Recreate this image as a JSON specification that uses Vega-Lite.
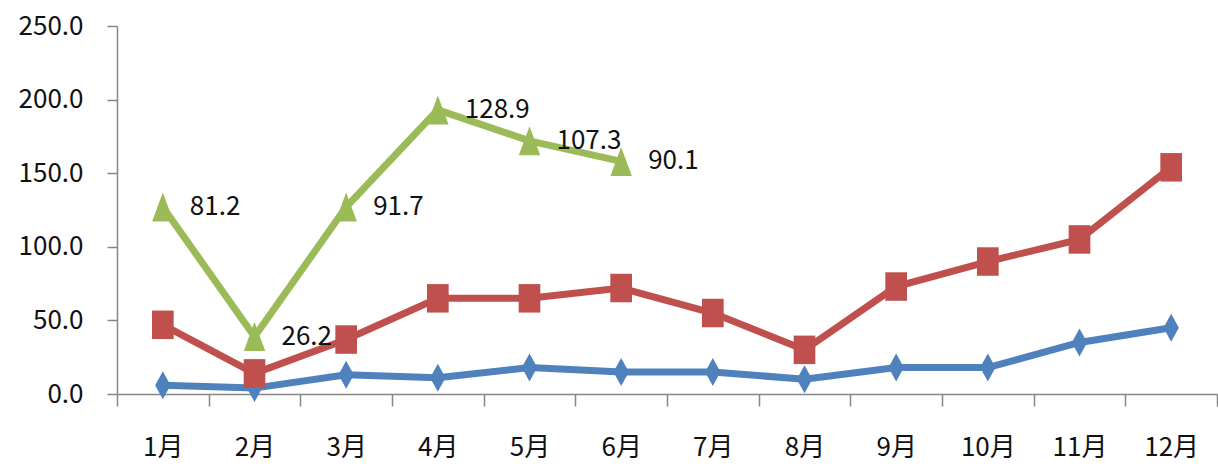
{
  "$schema": "https://vega.github.io/schema/vega-lite/v6.json",
  "width": 1100,
  "height": 368,
  "autosize": "none",
  "padding": {"left": 117, "top": 26, "right": 1, "bottom": 77},
  "background": "white",
  "config": {
    "view": {"stroke": null},
    "font": "Noto Sans CJK SC"
  },
  "data": {
    "values": [
      {"month": "1月", "series": "A", "value": 6},
      {"month": "2月", "series": "A", "value": 4},
      {"month": "3月", "series": "A", "value": 13},
      {"month": "4月", "series": "A", "value": 11},
      {"month": "5月", "series": "A", "value": 18},
      {"month": "6月", "series": "A", "value": 15},
      {"month": "7月", "series": "A", "value": 15},
      {"month": "8月", "series": "A", "value": 10},
      {"month": "9月", "series": "A", "value": 18},
      {"month": "10月", "series": "A", "value": 18},
      {"month": "11月", "series": "A", "value": 35},
      {"month": "12月", "series": "A", "value": 45},
      {"month": "1月", "series": "B", "value": 47},
      {"month": "2月", "series": "B", "value": 14},
      {"month": "3月", "series": "B", "value": 37},
      {"month": "4月", "series": "B", "value": 65},
      {"month": "5月", "series": "B", "value": 65},
      {"month": "6月", "series": "B", "value": 72},
      {"month": "7月", "series": "B", "value": 55},
      {"month": "8月", "series": "B", "value": 30},
      {"month": "9月", "series": "B", "value": 73},
      {"month": "10月", "series": "B", "value": 90},
      {"month": "11月", "series": "B", "value": 105},
      {"month": "12月", "series": "B", "value": 154},
      {"month": "1月", "series": "C", "value": 127, "label": "81.2"},
      {"month": "2月", "series": "C", "value": 39, "label": "26.2"},
      {"month": "3月", "series": "C", "value": 127, "label": "91.7"},
      {"month": "4月", "series": "C", "value": 193, "label": "128.9"},
      {"month": "5月", "series": "C", "value": 172, "label": "107.3"},
      {"month": "6月", "series": "C", "value": 158, "label": "90.1"}
    ]
  },
  "encoding": {
    "x": {
      "field": "month",
      "type": "nominal",
      "sort": ["1月","2月","3月","4月","5月","6月","7月","8月","9月","10月","11月","12月"],
      "scale": {"type": "band", "paddingInner": 0, "paddingOuter": 0},
      "bandPosition": 0.5,
      "axis": {
        "title": null,
        "labelAngle": 0,
        "tickBand": "extent",
        "domainColor": "#868686",
        "domainWidth": 1.5,
        "tickColor": "#868686",
        "tickWidth": 1.5,
        "tickSize": 12,
        "labelPadding": 28,
        "labelFontSize": 26,
        "labelColor": "#111111",
        "grid": false
      }
    },
    "y": {
      "field": "value",
      "type": "quantitative",
      "scale": {"domain": [0, 250], "nice": false},
      "axis": {
        "title": null,
        "values": [0, 50, 100, 150, 200, 250],
        "format": ".1f",
        "grid": false,
        "domainColor": "#868686",
        "domainWidth": 1.5,
        "tickColor": "#868686",
        "tickWidth": 1.5,
        "tickSize": 10,
        "labelPadding": 24,
        "labelFontSize": 26,
        "labelColor": "#111111"
      }
    },
    "color": {
      "field": "series",
      "type": "nominal",
      "scale": {"domain": ["A", "B", "C"], "range": ["#4F81BD", "#C0504D", "#9BBB59"]},
      "legend": null
    }
  },
  "layer": [
    {
      "mark": {"type": "line", "strokeWidth": 7}
    },
    {
      "mark": {"type": "point", "filled": true, "opacity": 1},
      "encoding": {
        "shape": {
          "field": "series",
          "type": "nominal",
          "scale": {"domain": ["A", "B", "C"], "range": ["M0,-1L0.55,0L0,1L-0.55,0Z", "M-0.76,-1H0.76V1H-0.76Z", "M0,-1L0.74,1L-0.74,1Z"]},
          "legend": null
        },
        "size": {
          "field": "series",
          "type": "nominal",
          "scale": {"domain": ["A", "B", "C"], "range": [784, 841, 729]},
          "legend": null
        }
      }
    },
    {
      "transform": [{"filter": "datum.label != null"}],
      "mark": {"type": "text", "align": "left", "baseline": "middle", "dx": 27, "fontSize": 26},
      "encoding": {
        "text": {"field": "label"},
        "color": {"value": "#111111"}
      }
    }
  ]
}
